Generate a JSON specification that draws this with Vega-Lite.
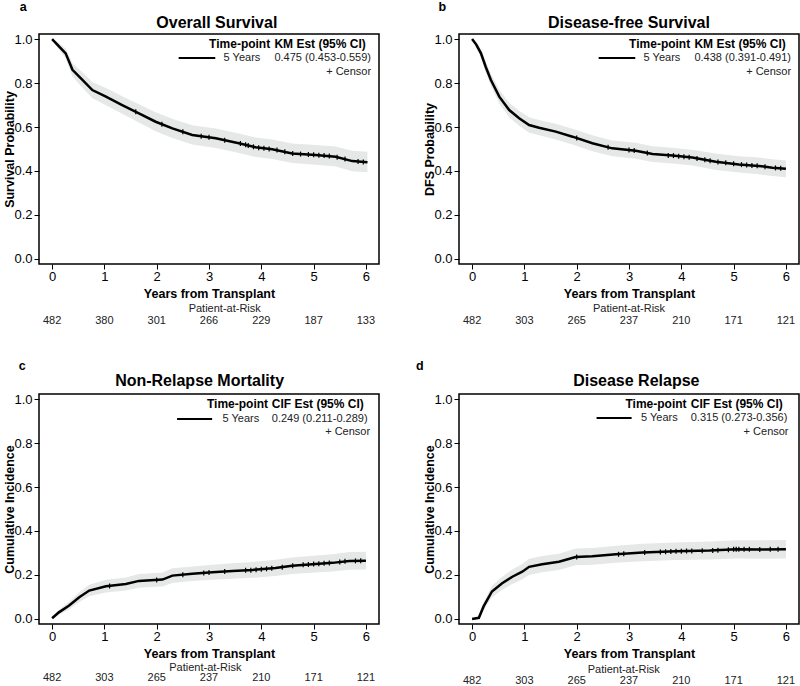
{
"$schema": "https://vega.github.io/schema/vega-lite/v6.json",
"padding": {"left": 3, "top": 0, "right": 0, "bottom": 0},
"columns": 2,
"spacing": {"row": 130, "column": 80},
"bounds": "flush",
"config": {
  "font": "Liberation Sans",
  "view": {"stroke": "black", "strokeWidth": 1.5},
  "axis": {"domain": false, "grid": false, "tickColor": "black", "tickSize": 5, "tickWidth": 1, "labelColor": "black", "labelFontSize": 13, "labelFont": "Liberation Sans", "titleColor": "black", "titleFontSize": 12.5, "titleFontWeight": "bold", "titleFont": "Liberation Sans"},
  "axisX": {"labelPadding": 1, "titlePadding": 4},
  "axisY": {"labelPadding": 2, "titlePadding": -3},
  "text": {"font": "Liberation Sans"}
},
"datasets": {
  "curve": [
    {"p":"a","t":0,"v":1,"lo":1,"hi":1},
    {"p":"a","t":0.1,"v":0.975,"lo":0.961,"hi":0.989},
    {"p":"a","t":0.26,"v":0.935,"lo":0.913,"hi":0.957},
    {"p":"a","t":0.39,"v":0.86,"lo":0.83,"hi":0.89},
    {"p":"a","t":0.58,"v":0.814,"lo":0.779,"hi":0.849},
    {"p":"a","t":0.77,"v":0.768,"lo":0.731,"hi":0.805},
    {"p":"a","t":1.03,"v":0.738,"lo":0.699,"hi":0.777},
    {"p":"a","t":1.34,"v":0.7,"lo":0.66,"hi":0.74},
    {"p":"a","t":1.66,"v":0.662,"lo":0.62,"hi":0.704},
    {"p":"a","t":1.98,"v":0.624,"lo":0.581,"hi":0.667},
    {"p":"a","t":2.3,"v":0.594,"lo":0.55,"hi":0.638},
    {"p":"a","t":2.68,"v":0.564,"lo":0.52,"hi":0.608},
    {"p":"a","t":3.13,"v":0.549,"lo":0.505,"hi":0.593},
    {"p":"a","t":3.57,"v":0.526,"lo":0.482,"hi":0.57},
    {"p":"a","t":3.89,"v":0.508,"lo":0.464,"hi":0.552},
    {"p":"a","t":4.21,"v":0.499,"lo":0.455,"hi":0.543},
    {"p":"a","t":4.59,"v":0.48,"lo":0.436,"hi":0.525},
    {"p":"a","t":5.04,"v":0.473,"lo":0.428,"hi":0.518},
    {"p":"a","t":5.42,"v":0.465,"lo":0.42,"hi":0.511},
    {"p":"a","t":5.74,"v":0.445,"lo":0.399,"hi":0.492},
    {"p":"a","t":6.03,"v":0.44,"lo":0.394,"hi":0.487},
    {"p":"b","t":0,"v":1,"lo":1,"hi":1},
    {"p":"b","t":0.08,"v":0.975,"lo":0.962,"hi":0.988},
    {"p":"b","t":0.17,"v":0.935,"lo":0.915,"hi":0.955},
    {"p":"b","t":0.26,"v":0.874,"lo":0.849,"hi":0.899},
    {"p":"b","t":0.36,"v":0.814,"lo":0.786,"hi":0.842},
    {"p":"b","t":0.52,"v":0.738,"lo":0.707,"hi":0.769},
    {"p":"b","t":0.71,"v":0.677,"lo":0.644,"hi":0.71},
    {"p":"b","t":0.9,"v":0.64,"lo":0.606,"hi":0.674},
    {"p":"b","t":1.09,"v":0.609,"lo":0.574,"hi":0.644},
    {"p":"b","t":1.28,"v":0.597,"lo":0.562,"hi":0.632},
    {"p":"b","t":1.6,"v":0.579,"lo":0.543,"hi":0.615},
    {"p":"b","t":1.92,"v":0.556,"lo":0.52,"hi":0.592},
    {"p":"b","t":2.3,"v":0.526,"lo":0.49,"hi":0.562},
    {"p":"b","t":2.68,"v":0.503,"lo":0.467,"hi":0.539},
    {"p":"b","t":3.13,"v":0.492,"lo":0.456,"hi":0.528},
    {"p":"b","t":3.45,"v":0.477,"lo":0.441,"hi":0.513},
    {"p":"b","t":3.83,"v":0.47,"lo":0.434,"hi":0.506},
    {"p":"b","t":4.21,"v":0.461,"lo":0.425,"hi":0.497},
    {"p":"b","t":4.66,"v":0.442,"lo":0.405,"hi":0.479},
    {"p":"b","t":5.1,"v":0.43,"lo":0.393,"hi":0.467},
    {"p":"b","t":5.48,"v":0.423,"lo":0.385,"hi":0.461},
    {"p":"b","t":5.74,"v":0.415,"lo":0.377,"hi":0.453},
    {"p":"b","t":6.0,"v":0.41,"lo":0.372,"hi":0.448},
    {"p":"c","t":0,"v":0.003,"lo":0,"hi":0.008},
    {"p":"c","t":0.13,"v":0.03,"lo":0.018,"hi":0.042},
    {"p":"c","t":0.32,"v":0.06,"lo":0.043,"hi":0.077},
    {"p":"c","t":0.52,"v":0.099,"lo":0.077,"hi":0.121},
    {"p":"c","t":0.71,"v":0.129,"lo":0.103,"hi":0.155},
    {"p":"c","t":1.03,"v":0.149,"lo":0.12,"hi":0.178},
    {"p":"c","t":1.41,"v":0.159,"lo":0.129,"hi":0.189},
    {"p":"c","t":1.66,"v":0.173,"lo":0.142,"hi":0.204},
    {"p":"c","t":2.11,"v":0.179,"lo":0.147,"hi":0.211},
    {"p":"c","t":2.3,"v":0.197,"lo":0.164,"hi":0.23},
    {"p":"c","t":2.68,"v":0.205,"lo":0.172,"hi":0.238},
    {"p":"c","t":3.06,"v":0.212,"lo":0.178,"hi":0.246},
    {"p":"c","t":3.45,"v":0.218,"lo":0.183,"hi":0.253},
    {"p":"c","t":3.83,"v":0.223,"lo":0.187,"hi":0.259},
    {"p":"c","t":4.27,"v":0.232,"lo":0.195,"hi":0.269},
    {"p":"c","t":4.59,"v":0.242,"lo":0.204,"hi":0.28},
    {"p":"c","t":5.04,"v":0.25,"lo":0.211,"hi":0.289},
    {"p":"c","t":5.36,"v":0.255,"lo":0.216,"hi":0.294},
    {"p":"c","t":5.68,"v":0.264,"lo":0.224,"hi":0.304},
    {"p":"c","t":6.0,"v":0.265,"lo":0.225,"hi":0.306},
    {"p":"d","t":0,"v":0,"lo":0,"hi":0},
    {"p":"d","t":0.13,"v":0.005,"lo":0,"hi":0.012},
    {"p":"d","t":0.22,"v":0.057,"lo":0.038,"hi":0.076},
    {"p":"d","t":0.38,"v":0.125,"lo":0.099,"hi":0.151},
    {"p":"d","t":0.575,"v":0.162,"lo":0.132,"hi":0.192},
    {"p":"d","t":0.77,"v":0.192,"lo":0.159,"hi":0.225},
    {"p":"d","t":0.96,"v":0.215,"lo":0.18,"hi":0.25},
    {"p":"d","t":1.09,"v":0.237,"lo":0.2,"hi":0.274},
    {"p":"d","t":1.34,"v":0.249,"lo":0.212,"hi":0.286},
    {"p":"d","t":1.66,"v":0.26,"lo":0.223,"hi":0.297},
    {"p":"d","t":1.98,"v":0.282,"lo":0.244,"hi":0.32},
    {"p":"d","t":2.3,"v":0.285,"lo":0.247,"hi":0.323},
    {"p":"d","t":2.75,"v":0.294,"lo":0.255,"hi":0.333},
    {"p":"d","t":3.26,"v":0.302,"lo":0.262,"hi":0.342},
    {"p":"d","t":3.9,"v":0.308,"lo":0.268,"hi":0.348},
    {"p":"d","t":4.54,"v":0.311,"lo":0.27,"hi":0.352},
    {"p":"d","t":5.05,"v":0.317,"lo":0.275,"hi":0.358},
    {"p":"d","t":5.56,"v":0.316,"lo":0.274,"hi":0.358},
    {"p":"d","t":6.0,"v":0.317,"lo":0.275,"hi":0.359}
  ],
  "censor": [
    {"p":"a","t":1.6,"v":0.669},{"p":"a","t":2.1,"v":0.613},{"p":"a","t":2.5,"v":0.578},{"p":"a","t":2.85,"v":0.558},{"p":"a","t":3.0,"v":0.553},{"p":"a","t":3.3,"v":0.54},{"p":"a","t":3.6,"v":0.525},{"p":"a","t":3.7,"v":0.519},{"p":"a","t":3.75,"v":0.516},{"p":"a","t":3.85,"v":0.51},{"p":"a","t":3.95,"v":0.506},{"p":"a","t":4.05,"v":0.503},{"p":"a","t":4.15,"v":0.5},{"p":"a","t":4.3,"v":0.495},{"p":"a","t":4.45,"v":0.487},{"p":"a","t":4.6,"v":0.48},{"p":"a","t":4.75,"v":0.477},{"p":"a","t":4.9,"v":0.475},{"p":"a","t":5.0,"v":0.474},{"p":"a","t":5.1,"v":0.472},{"p":"a","t":5.2,"v":0.47},{"p":"a","t":5.3,"v":0.468},{"p":"a","t":5.45,"v":0.463},{"p":"a","t":5.6,"v":0.455},{"p":"a","t":5.85,"v":0.443},{"p":"a","t":5.95,"v":0.441},
    {"p":"b","t":2.0,"v":0.55},{"p":"b","t":2.6,"v":0.508},{"p":"b","t":3.0,"v":0.495},{"p":"b","t":3.1,"v":0.493},{"p":"b","t":3.35,"v":0.482},{"p":"b","t":3.75,"v":0.471},{"p":"b","t":3.85,"v":0.47},{"p":"b","t":3.95,"v":0.467},{"p":"b","t":4.05,"v":0.465},{"p":"b","t":4.15,"v":0.463},{"p":"b","t":4.3,"v":0.457},{"p":"b","t":4.45,"v":0.451},{"p":"b","t":4.55,"v":0.447},{"p":"b","t":4.7,"v":0.441},{"p":"b","t":4.85,"v":0.437},{"p":"b","t":5.0,"v":0.433},{"p":"b","t":5.15,"v":0.429},{"p":"b","t":5.25,"v":0.427},{"p":"b","t":5.35,"v":0.425},{"p":"b","t":5.45,"v":0.424},{"p":"b","t":5.6,"v":0.419},{"p":"b","t":5.8,"v":0.414},{"p":"b","t":5.9,"v":0.412},
    {"p":"c","t":1.1,"v":0.15},{"p":"c","t":2.0,"v":0.177},{"p":"c","t":2.5,"v":0.201},{"p":"c","t":2.9,"v":0.209},{"p":"c","t":3.0,"v":0.211},{"p":"c","t":3.3,"v":0.216},{"p":"c","t":3.7,"v":0.221},{"p":"c","t":3.8,"v":0.222},{"p":"c","t":3.9,"v":0.224},{"p":"c","t":4.0,"v":0.226},{"p":"c","t":4.1,"v":0.228},{"p":"c","t":4.2,"v":0.23},{"p":"c","t":4.4,"v":0.235},{"p":"c","t":4.6,"v":0.242},{"p":"c","t":4.8,"v":0.246},{"p":"c","t":4.9,"v":0.248},{"p":"c","t":5.0,"v":0.25},{"p":"c","t":5.1,"v":0.251},{"p":"c","t":5.2,"v":0.253},{"p":"c","t":5.3,"v":0.254},{"p":"c","t":5.5,"v":0.259},{"p":"c","t":5.6,"v":0.262},{"p":"c","t":5.8,"v":0.264},{"p":"c","t":5.9,"v":0.265},
    {"p":"d","t":2.0,"v":0.282},{"p":"d","t":2.8,"v":0.294},{"p":"d","t":2.9,"v":0.296},{"p":"d","t":3.3,"v":0.302},{"p":"d","t":3.6,"v":0.305},{"p":"d","t":3.7,"v":0.306},{"p":"d","t":3.8,"v":0.307},{"p":"d","t":3.9,"v":0.308},{"p":"d","t":4.0,"v":0.308},{"p":"d","t":4.1,"v":0.309},{"p":"d","t":4.2,"v":0.309},{"p":"d","t":4.4,"v":0.31},{"p":"d","t":4.6,"v":0.311},{"p":"d","t":4.7,"v":0.312},{"p":"d","t":4.9,"v":0.315},{"p":"d","t":5.0,"v":0.317},{"p":"d","t":5.05,"v":0.317},{"p":"d","t":5.1,"v":0.317},{"p":"d","t":5.2,"v":0.317},{"p":"d","t":5.3,"v":0.317},{"p":"d","t":5.5,"v":0.316},{"p":"d","t":5.7,"v":0.317},{"p":"d","t":5.85,"v":0.317}
  ],
  "risk": [
    {"p":"a","t":0,"n":482},{"p":"a","t":1,"n":380},{"p":"a","t":2,"n":301},{"p":"a","t":3,"n":266},{"p":"a","t":4,"n":229},{"p":"a","t":5,"n":187},{"p":"a","t":6,"n":133},
    {"p":"b","t":0,"n":482},{"p":"b","t":1,"n":303},{"p":"b","t":2,"n":265},{"p":"b","t":3,"n":237},{"p":"b","t":4,"n":210},{"p":"b","t":5,"n":171},{"p":"b","t":6,"n":121},
    {"p":"c","t":0,"n":482},{"p":"c","t":1,"n":303},{"p":"c","t":2,"n":265},{"p":"c","t":3,"n":237},{"p":"c","t":4,"n":210},{"p":"c","t":5,"n":171},{"p":"c","t":6,"n":121},
    {"p":"d","t":0,"n":482},{"p":"d","t":1,"n":303},{"p":"d","t":2,"n":265},{"p":"d","t":3,"n":237},{"p":"d","t":4,"n":210},{"p":"d","t":5,"n":171},{"p":"d","t":6,"n":121}
  ],
  "info": [
    {"p":"a","letter":"a","title":"Overall Survival","head":"KM Est (95% CI)","est":"0.475 (0.453-0.559)"},
    {"p":"b","letter":"b","title":"Disease-free Survival","head":"KM Est (95% CI)","est":"0.438 (0.391-0.491)"},
    {"p":"c","letter":"c","title":"Non-Relapse Mortality","head":"CIF Est (95% CI)","est":"0.249 (0.211-0.289)"},
    {"p":"d","letter":"d","title":"Disease Relapse","head":"CIF Est (95% CI)","est":"0.315 (0.273-0.356)"}
  ]
},
"concat": [
  {
    "width": 340, "height": 230,
    "layer": [
      {"data": {"name": "curve"}, "transform": [{"filter": "datum.p == 'a'"}],
       "mark": {"type": "area", "color": "#e6e8e8"},
       "encoding": {
         "x": {"field": "t", "type": "quantitative", "scale": {"domain": [-0.25, 6.25], "nice": false, "zero": false}, "axis": {"values": [0,1,2,3,4,5,6], "format": "d", "title": "Years from Transplant"}},
         "y": {"field": "lo", "type": "quantitative", "scale": {"domain": [-0.023, 1.023], "nice": false, "zero": false}, "axis": {"values": [0,0.1,0.2,0.3,0.4,0.5,0.6,0.7,0.8,0.9,1], "labelExpr": "round(datum.value*10) % 2 == 0 ? format(datum.value, '.1f') : ''", "title": "Survival Probability"}},
         "y2": {"field": "hi"}}},
      {"data": {"name": "curve"}, "transform": [{"filter": "datum.p == 'a'"}],
       "mark": {"type": "line", "color": "black", "strokeWidth": 2.5},
       "encoding": {"x": {"field": "t", "type": "quantitative"}, "y": {"field": "v", "type": "quantitative"}}},
      {"data": {"name": "censor"}, "transform": [{"filter": "datum.p == 'a'"}],
       "mark": {"type": "point", "shape": "M0,-1L0,1", "size": 25, "stroke": "black", "strokeWidth": 1.2, "filled": false, "opacity": 1},
       "encoding": {"x": {"field": "t", "type": "quantitative"}, "y": {"field": "v", "type": "quantitative"}}},
      {"data": {"name": "risk"}, "transform": [{"filter": "datum.p == 'a'"}],
       "mark": {"type": "text", "fontSize": 11, "color": "#222"},
       "encoding": {"x": {"field": "t", "type": "quantitative"}, "y": {"datum": -0.28}, "text": {"field": "n"}}},
      {"data": {"name": "info"}, "transform": [{"filter": "datum.p == 'a'"}],
       "layer": [
         {"mark": {"type": "text", "fontSize": 16, "fontWeight": "bold", "color": "black"}, "encoding": {"x": {"datum": 3.15}, "y": {"datum": 1.075}, "text": {"field": "title"}}},
         {"mark": {"type": "text", "fontSize": 12.5, "fontWeight": "bold", "color": "black"}, "encoding": {"x": {"datum": -0.55}, "y": {"datum": 1.145}, "text": {"field": "letter"}}},
         {"mark": {"type": "text", "fontSize": 11, "color": "#222", "text": "Patient-at-Risk"}, "encoding": {"x": {"datum": 3.3}, "y": {"datum": -0.228}}},
         {"mark": {"type": "text", "fontSize": 12, "fontWeight": "bold", "color": "black", "align": "right", "text": "Time-point"}, "encoding": {"x": {"datum": 4.17}, "y": {"datum": 0.977}}},
         {"mark": {"type": "text", "fontSize": 12, "fontWeight": "bold", "color": "black", "align": "left"}, "encoding": {"x": {"datum": 4.25}, "y": {"datum": 0.977}, "text": {"field": "head"}}},
         {"mark": {"type": "rule", "color": "black", "strokeWidth": 2}, "encoding": {"x": {"datum": 2.42}, "x2": {"datum": 3.12}, "y": {"datum": 0.914}}},
         {"mark": {"type": "text", "fontSize": 11, "color": "#222", "text": "5 Years"}, "encoding": {"x": {"datum": 3.63}, "y": {"datum": 0.914}}},
         {"mark": {"type": "text", "fontSize": 11, "color": "#222", "align": "left"}, "encoding": {"x": {"datum": 4.25}, "y": {"datum": 0.914}, "text": {"field": "est"}}},
         {"mark": {"type": "text", "fontSize": 11, "color": "#222", "align": "right", "text": "+ Censor"}, "encoding": {"x": {"datum": 6.1}, "y": {"datum": 0.85}}}
       ]}
    ]
  },
  {
    "width": 340, "height": 230,
    "layer": [
      {"data": {"name": "curve"}, "transform": [{"filter": "datum.p == 'b'"}],
       "mark": {"type": "area", "color": "#e6e8e8"},
       "encoding": {
         "x": {"field": "t", "type": "quantitative", "scale": {"domain": [-0.25, 6.25], "nice": false, "zero": false}, "axis": {"values": [0,1,2,3,4,5,6], "format": "d", "title": "Years from Transplant"}},
         "y": {"field": "lo", "type": "quantitative", "scale": {"domain": [-0.023, 1.023], "nice": false, "zero": false}, "axis": {"values": [0,0.1,0.2,0.3,0.4,0.5,0.6,0.7,0.8,0.9,1], "labelExpr": "round(datum.value*10) % 2 == 0 ? format(datum.value, '.1f') : ''", "title": "DFS Probability"}},
         "y2": {"field": "hi"}}},
      {"data": {"name": "curve"}, "transform": [{"filter": "datum.p == 'b'"}],
       "mark": {"type": "line", "color": "black", "strokeWidth": 2.5},
       "encoding": {"x": {"field": "t", "type": "quantitative"}, "y": {"field": "v", "type": "quantitative"}}},
      {"data": {"name": "censor"}, "transform": [{"filter": "datum.p == 'b'"}],
       "mark": {"type": "point", "shape": "M0,-1L0,1", "size": 25, "stroke": "black", "strokeWidth": 1.2, "filled": false, "opacity": 1},
       "encoding": {"x": {"field": "t", "type": "quantitative"}, "y": {"field": "v", "type": "quantitative"}}},
      {"data": {"name": "risk"}, "transform": [{"filter": "datum.p == 'b'"}],
       "mark": {"type": "text", "fontSize": 11, "color": "#222"},
       "encoding": {"x": {"field": "t", "type": "quantitative"}, "y": {"datum": -0.28}, "text": {"field": "n"}}},
      {"data": {"name": "info"}, "transform": [{"filter": "datum.p == 'b'"}],
       "layer": [
         {"mark": {"type": "text", "fontSize": 16, "fontWeight": "bold", "color": "black"}, "encoding": {"x": {"datum": 3.0}, "y": {"datum": 1.075}, "text": {"field": "title"}}},
         {"mark": {"type": "text", "fontSize": 12.5, "fontWeight": "bold", "color": "black"}, "encoding": {"x": {"datum": -0.57}, "y": {"datum": 1.145}, "text": {"field": "letter"}}},
         {"mark": {"type": "text", "fontSize": 11, "color": "#222", "text": "Patient-at-Risk"}, "encoding": {"x": {"datum": 3.0}, "y": {"datum": -0.228}}},
         {"mark": {"type": "text", "fontSize": 12, "fontWeight": "bold", "color": "black", "align": "right", "text": "Time-point"}, "encoding": {"x": {"datum": 4.17}, "y": {"datum": 0.977}}},
         {"mark": {"type": "text", "fontSize": 12, "fontWeight": "bold", "color": "black", "align": "left"}, "encoding": {"x": {"datum": 4.25}, "y": {"datum": 0.977}, "text": {"field": "head"}}},
         {"mark": {"type": "rule", "color": "black", "strokeWidth": 2}, "encoding": {"x": {"datum": 2.42}, "x2": {"datum": 3.12}, "y": {"datum": 0.914}}},
         {"mark": {"type": "text", "fontSize": 11, "color": "#222", "text": "5 Years"}, "encoding": {"x": {"datum": 3.63}, "y": {"datum": 0.914}}},
         {"mark": {"type": "text", "fontSize": 11, "color": "#222", "align": "left"}, "encoding": {"x": {"datum": 4.25}, "y": {"datum": 0.914}, "text": {"field": "est"}}},
         {"mark": {"type": "text", "fontSize": 11, "color": "#222", "align": "right", "text": "+ Censor"}, "encoding": {"x": {"datum": 6.1}, "y": {"datum": 0.85}}}
       ]}
    ]
  },
  {
    "width": 340, "height": 230,
    "layer": [
      {"data": {"name": "curve"}, "transform": [{"filter": "datum.p == 'c'"}],
       "mark": {"type": "area", "color": "#e6e8e8"},
       "encoding": {
         "x": {"field": "t", "type": "quantitative", "scale": {"domain": [-0.25, 6.25], "nice": false, "zero": false}, "axis": {"values": [0,1,2,3,4,5,6], "format": "d", "title": "Years from Transplant"}},
         "y": {"field": "lo", "type": "quantitative", "scale": {"domain": [-0.023, 1.023], "nice": false, "zero": false}, "axis": {"values": [0,0.1,0.2,0.3,0.4,0.5,0.6,0.7,0.8,0.9,1], "labelExpr": "round(datum.value*10) % 2 == 0 ? format(datum.value, '.1f') : ''", "title": "Cumulative Incidence"}},
         "y2": {"field": "hi"}}},
      {"data": {"name": "curve"}, "transform": [{"filter": "datum.p == 'c'"}],
       "mark": {"type": "line", "color": "black", "strokeWidth": 2.5},
       "encoding": {"x": {"field": "t", "type": "quantitative"}, "y": {"field": "v", "type": "quantitative"}}},
      {"data": {"name": "censor"}, "transform": [{"filter": "datum.p == 'c'"}],
       "mark": {"type": "point", "shape": "M0,-1L0,1", "size": 25, "stroke": "black", "strokeWidth": 1.2, "filled": false, "opacity": 1},
       "encoding": {"x": {"field": "t", "type": "quantitative"}, "y": {"field": "v", "type": "quantitative"}}},
      {"data": {"name": "risk"}, "transform": [{"filter": "datum.p == 'c'"}],
       "mark": {"type": "text", "fontSize": 11, "color": "#222"},
       "encoding": {"x": {"field": "t", "type": "quantitative"}, "y": {"datum": -0.27}, "text": {"field": "n"}}},
      {"data": {"name": "info"}, "transform": [{"filter": "datum.p == 'c'"}],
       "layer": [
         {"mark": {"type": "text", "fontSize": 16, "fontWeight": "bold", "color": "black"}, "encoding": {"x": {"datum": 2.82}, "y": {"datum": 1.08}, "text": {"field": "title"}}},
         {"mark": {"type": "text", "fontSize": 12.5, "fontWeight": "bold", "color": "black"}, "encoding": {"x": {"datum": -0.57}, "y": {"datum": 1.15}, "text": {"field": "letter"}}},
         {"mark": {"type": "text", "fontSize": 11, "color": "#222", "text": "Patient-at-Risk"}, "encoding": {"x": {"datum": 2.93}, "y": {"datum": -0.225}}},
         {"mark": {"type": "text", "fontSize": 12, "fontWeight": "bold", "color": "black", "align": "right", "text": "Time-point"}, "encoding": {"x": {"datum": 4.13}, "y": {"datum": 0.977}}},
         {"mark": {"type": "text", "fontSize": 12, "fontWeight": "bold", "color": "black", "align": "left"}, "encoding": {"x": {"datum": 4.2}, "y": {"datum": 0.977}, "text": {"field": "head"}}},
         {"mark": {"type": "rule", "color": "black", "strokeWidth": 2}, "encoding": {"x": {"datum": 2.39}, "x2": {"datum": 3.06}, "y": {"datum": 0.909}}},
         {"mark": {"type": "text", "fontSize": 11, "color": "#222", "text": "5 Years"}, "encoding": {"x": {"datum": 3.61}, "y": {"datum": 0.909}}},
         {"mark": {"type": "text", "fontSize": 11, "color": "#222", "align": "left"}, "encoding": {"x": {"datum": 4.2}, "y": {"datum": 0.909}, "text": {"field": "est"}}},
         {"mark": {"type": "text", "fontSize": 11, "color": "#222", "align": "right", "text": "+ Censor"}, "encoding": {"x": {"datum": 6.08}, "y": {"datum": 0.85}}}
       ]}
    ]
  },
  {
    "width": 340, "height": 230,
    "layer": [
      {"data": {"name": "curve"}, "transform": [{"filter": "datum.p == 'd'"}],
       "mark": {"type": "area", "color": "#e6e8e8"},
       "encoding": {
         "x": {"field": "t", "type": "quantitative", "scale": {"domain": [-0.25, 6.25], "nice": false, "zero": false}, "axis": {"values": [0,1,2,3,4,5,6], "format": "d", "title": "Years from Transplant"}},
         "y": {"field": "lo", "type": "quantitative", "scale": {"domain": [-0.023, 1.023], "nice": false, "zero": false}, "axis": {"values": [0,0.1,0.2,0.3,0.4,0.5,0.6,0.7,0.8,0.9,1], "labelExpr": "round(datum.value*10) % 2 == 0 ? format(datum.value, '.1f') : ''", "title": "Cumulative Incidence"}},
         "y2": {"field": "hi"}}},
      {"data": {"name": "curve"}, "transform": [{"filter": "datum.p == 'd'"}],
       "mark": {"type": "line", "color": "black", "strokeWidth": 2.5},
       "encoding": {"x": {"field": "t", "type": "quantitative"}, "y": {"field": "v", "type": "quantitative"}}},
      {"data": {"name": "censor"}, "transform": [{"filter": "datum.p == 'd'"}],
       "mark": {"type": "point", "shape": "M0,-1L0,1", "size": 25, "stroke": "black", "strokeWidth": 1.2, "filled": false, "opacity": 1},
       "encoding": {"x": {"field": "t", "type": "quantitative"}, "y": {"field": "v", "type": "quantitative"}}},
      {"data": {"name": "risk"}, "transform": [{"filter": "datum.p == 'd'"}],
       "mark": {"type": "text", "fontSize": 11, "color": "#222"},
       "encoding": {"x": {"field": "t", "type": "quantitative"}, "y": {"datum": -0.28}, "text": {"field": "n"}}},
      {"data": {"name": "info"}, "transform": [{"filter": "datum.p == 'd'"}],
       "layer": [
         {"mark": {"type": "text", "fontSize": 16, "fontWeight": "bold", "color": "black"}, "encoding": {"x": {"datum": 3.14}, "y": {"datum": 1.08}, "text": {"field": "title"}}},
         {"mark": {"type": "text", "fontSize": 12.5, "fontWeight": "bold", "color": "black"}, "encoding": {"x": {"datum": -1.0}, "y": {"datum": 1.15}, "text": {"field": "letter"}}},
         {"mark": {"type": "text", "fontSize": 11, "color": "#222", "text": "Patient-at-Risk"}, "encoding": {"x": {"datum": 2.9}, "y": {"datum": -0.232}}},
         {"mark": {"type": "text", "fontSize": 12, "fontWeight": "bold", "color": "black", "align": "right", "text": "Time-point"}, "encoding": {"x": {"datum": 4.1}, "y": {"datum": 0.977}}},
         {"mark": {"type": "text", "fontSize": 12, "fontWeight": "bold", "color": "black", "align": "left"}, "encoding": {"x": {"datum": 4.18}, "y": {"datum": 0.977}, "text": {"field": "head"}}},
         {"mark": {"type": "rule", "color": "black", "strokeWidth": 2}, "encoding": {"x": {"datum": 2.38}, "x2": {"datum": 3.05}, "y": {"datum": 0.914}}},
         {"mark": {"type": "text", "fontSize": 11, "color": "#222", "text": "5 Years"}, "encoding": {"x": {"datum": 3.58}, "y": {"datum": 0.914}}},
         {"mark": {"type": "text", "fontSize": 11, "color": "#222", "align": "left"}, "encoding": {"x": {"datum": 4.18}, "y": {"datum": 0.914}, "text": {"field": "est"}}},
         {"mark": {"type": "text", "fontSize": 11, "color": "#222", "align": "right", "text": "+ Censor"}, "encoding": {"x": {"datum": 6.05}, "y": {"datum": 0.85}}}
       ]}
    ]
  }
]
}
